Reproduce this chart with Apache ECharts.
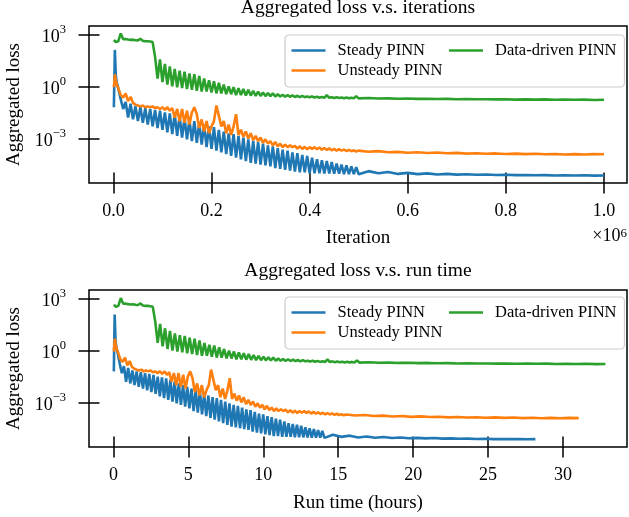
<!DOCTYPE html>
<html><head><meta charset="utf-8">
<script src="https://cdn.jsdelivr.net/npm/echarts@6/dist/echarts.min.js"></script>
<style>html,body{margin:0;padding:0;background:#fff}#c{width:629px;height:517px}</style>
</head><body><div id="c"></div>
<script>
// iteration grid (thousands of iterations)
const iterK = [1,3,5,7,
 10,15,20,25,30,35,40,45,50,55,60,65,70,75,80,85,90,95,100,
 105,110,115,120,125,130,135,140,145,150,155,160,165,170,175,180,185,190,195,200,
 205,210,215,220,225,230,235,240,245,250,255,260,265,270,275,280,285,290,295,300,
 305,310,315,320,325,330,335,340,345,350,355,360,365,370,375,380,385,390,395,400,
 405,410,415,420,425,430,435,440,445,450,455,460,465,470,475,480,485,490,495,500,
 520,540,560,580,600,620,640,660,680,700,720,740,760,780,800,820,840,860,880,900,920,940,960,980,1000];
// log10 of aggregated loss
const steadyLog = [-1.2,2.1,0.6,0.2,
 -0.1,-0.75,-1.3,-0.9,-1.8,-1.0,-1.9,-1.15,-2.0,-1.2,-2.1,-1.25,-2.2,-1.3,-2.3,-1.35,-2.4,-1.4,-2.5,
 -1.5,-2.65,-1.55,-2.75,-1.6,-2.85,-1.7,-2.95,-1.8,-3.05,-1.9,-3.15,-2.0,-3.25,-2.1,-3.35,-2.2,-3.5,-2.3,-3.6,
 -2.35,-3.7,-2.5,-3.8,-2.6,-3.9,-2.7,-4.0,-2.75,-4.1,-2.85,-4.2,-2.95,-4.3,-3.05,-4.4,-3.15,-4.45,-3.2,-4.5,
 -3.3,-4.55,-3.4,-4.6,-3.45,-4.7,-3.55,-4.75,-3.65,-4.8,-3.7,-4.85,-3.8,-4.9,-3.85,-4.95,-3.95,-4.95,-4.0,-5.0,
 -4.1,-5.0,-4.2,-5.0,-4.25,-5.02,-4.3,-5.02,-4.35,-5.03,-4.45,-5.03,-4.5,-5.05,-4.55,-5.05,-4.6,-5.05,-4.65,-5.06,
 -4.88,-5.0,-4.93,-5.04,-4.98,-5.05,-5.01,-5.07,-5.04,-5.08,-5.06,-5.09,-5.07,-5.1,-5.09,-5.11,-5.1,-5.12,-5.11,-5.13,-5.12,-5.13,-5.12,-5.14,-5.13];
const unsteadyLog = [-0.05,0.7,0.35,0.1,
 -0.1,-0.5,-0.65,-0.4,-0.85,-0.6,-0.95,-1.05,-1.1,-1.15,-1.1,-1.2,-1.15,-1.2,-1.15,-1.25,-1.2,-1.3,-1.2,
 -1.35,-1.2,-1.4,-1.25,-1.8,-1.3,-2.0,-1.3,-2.1,-1.4,-2.2,-1.5,-1.2,-1.6,-2.4,-1.9,-2.6,-2.0,-2.7,-2.3,
 -2.0,-1.1,-1.7,-2.3,-2.0,-2.7,-2.2,-2.8,-2.3,-1.6,-2.8,-2.5,-2.9,-2.6,-3.0,-2.7,-3.1,-2.85,-3.15,-2.95,
 -3.25,-3.05,-3.3,-3.15,-3.4,-3.2,-3.45,-3.3,-3.5,-3.35,-3.5,-3.4,-3.5,-3.42,-3.58,-3.45,-3.6,-3.48,-3.62,-3.5,
 -3.6,-3.5,-3.62,-3.52,-3.65,-3.55,-3.66,-3.57,-3.68,-3.6,-3.7,-3.62,-3.7,-3.64,-3.72,-3.66,-3.73,-3.68,-3.75,-3.7,
 -3.76,-3.73,-3.79,-3.77,-3.82,-3.79,-3.84,-3.81,-3.85,-3.83,-3.87,-3.85,-3.88,-3.86,-3.89,-3.87,-3.9,-3.88,-3.91,-3.89,-3.92,-3.9,-3.92,-3.9,-3.91];
const drivenLog = [2.67,2.6,2.55,2.58,
 2.6,3.05,2.72,2.73,2.7,2.68,2.69,2.66,2.65,2.74,2.62,2.6,2.6,2.58,2.55,1.7,0.45,1.55,0.25,
 1.3,0.1,1.15,0.0,1.0,-0.05,0.9,-0.1,0.85,-0.15,0.75,-0.2,0.7,-0.25,0.6,-0.3,0.45,-0.3,0.35,-0.35,
 0.3,-0.4,0.2,-0.4,0.1,-0.45,0.0,-0.45,-0.05,-0.5,-0.1,-0.5,-0.15,-0.52,-0.2,-0.53,-0.25,-0.55,-0.3,-0.55,
 -0.35,-0.56,-0.38,-0.57,-0.4,-0.58,-0.45,-0.58,-0.48,-0.6,-0.5,-0.6,-0.52,-0.61,-0.54,-0.62,-0.55,-0.62,-0.58,-0.63,
 -0.58,-0.64,-0.6,-0.65,-0.61,-0.66,-0.5,-0.66,-0.62,-0.67,-0.63,-0.67,-0.64,-0.68,-0.64,-0.68,-0.65,-0.69,-0.56,-0.69,
 -0.67,-0.7,-0.69,-0.71,-0.7,-0.72,-0.71,-0.73,-0.72,-0.74,-0.73,-0.74,-0.74,-0.75,-0.74,-0.76,-0.75,-0.76,-0.75,-0.77,-0.76,-0.77,-0.76,-0.78,-0.77];
// total wall-clock hours for the 1e6 iterations of each run
const runHoursTotal = [28.16, 31.05, 32.83];
const seriesNames = ['Steady PINN', 'Unsteady PINN', 'Data-driven PINN'];
const seriesColors = ['#1f77b4', '#ff7f0e', '#2ca02c'];
const iterTicks = [0, 200000, 400000, 600000, 800000, 1000000];
const hourTicks = [0, 5, 10, 15, 20, 25, 30];
const lossTicks = [1e-3, 1, 1e3];

const FONT = '"Liberation Serif", "Times New Roman", serif';
const logs = [steadyLog, unsteadyLog, drivenLog];

function lossLabel(v) {
  const e = Math.round(Math.log10(v));
  return '{b|10}{s|' + (e < 0 ? '\u2212' + (-e) : e) + '}';
}
const richSup = {
  b: {fontSize: 18, fontFamily: FONT, color: '#000', padding: [5, 0, 0, 0]},
  s: {fontSize: 12.5, fontFamily: FONT, color: '#000', verticalAlign: 'top'}
};
const tickStyle = {color: '#000', width: 1.5};

function xAxes(grid, min, max, ticks, fmt, name, gap) {
  return [
    {gridIndex: grid, type: 'value', position: 'bottom', min: min, max: max,
     axisLine: {show: false, onZero: false}, splitLine: {show: false},
     axisTick: {show: true, inside: false, length: 10.5, customValues: ticks, lineStyle: tickStyle},
     axisLabel: {customValues: ticks, formatter: fmt, margin: 19.5, fontSize: 18, fontFamily: FONT, color: '#000'},
     name: name, nameLocation: 'middle', nameGap: gap,
     nameTextStyle: {fontSize: 19, fontFamily: FONT, color: '#000'}},
    {gridIndex: grid, type: 'value', position: 'bottom', min: min, max: max,
     axisLine: {show: false, onZero: false}, splitLine: {show: false}, axisLabel: {show: false},
     axisTick: {show: true, inside: true, length: 10.5, customValues: ticks, lineStyle: tickStyle}}
  ];
}
function yAxes(grid, minE, maxE) {
  const min = Math.pow(10, minE), max = Math.pow(10, maxE);
  return [
    {gridIndex: grid, type: 'log', position: 'left', min: min, max: max,
     axisLine: {show: false, onZero: false}, splitLine: {show: false}, minorTick: {show: false},
     axisTick: {show: true, inside: false, length: 10.5, customValues: lossTicks, lineStyle: tickStyle},
     axisLabel: {customValues: lossTicks, formatter: lossLabel, margin: 23, rich: richSup},
     name: 'Aggregated loss', nameLocation: 'middle', nameGap: 64,
     nameTextStyle: {fontSize: 19, fontFamily: FONT, color: '#000'}},
    {gridIndex: grid, type: 'log', position: 'left', min: min, max: max,
     axisLine: {show: false, onZero: false}, splitLine: {show: false}, axisLabel: {show: false}, minorTick: {show: false},
     axisTick: {show: true, inside: true, length: 10.5, customValues: lossTicks, lineStyle: tickStyle}}
  ];
}
function legends(top) {
  const common = {orient: 'horizontal', icon: 'rect', itemWidth: 34, itemHeight: 2.6, itemGap: 24, selectedMode: false,
    textStyle: {fontSize: 16.5, fontFamily: FONT, color: '#000', padding: [0, 0, 0, 7]}};
  return [
    Object.assign({}, common, {data: ['Steady PINN', 'Data-driven PINN'], left: 285, top: top,
      padding: [7, 8, 28, 6.5], backgroundColor: 'rgba(255,255,255,0.8)', borderColor: '#cccccc',
      borderWidth: 1.2, borderRadius: 4, z: 10}),
    Object.assign({}, common, {data: ['Unsteady PINN'], left: 291.5, top: top + 27, padding: 0, z: 11})
  ];
}

const series = [];
for (let k = 0; k < 3; k++) {
  series.push({name: seriesNames[k], type: 'line', xAxisIndex: 0, yAxisIndex: 0, showSymbol: false, symbol: 'none',
    lineStyle: {width: 2.6, color: seriesColors[k]}, itemStyle: {color: seriesColors[k]},
    data: iterK.map((x, i) => [x * 1000, Math.pow(10, logs[k][i])])});
}
for (let k = 0; k < 3; k++) {
  series.push({name: seriesNames[k], type: 'line', xAxisIndex: 2, yAxisIndex: 2, showSymbol: false, symbol: 'none',
    lineStyle: {width: 2.6, color: seriesColors[k]}, itemStyle: {color: seriesColors[k]},
    data: iterK.map((x, i) => [x / 1000 * runHoursTotal[k], Math.pow(10, logs[k][i])])});
}

const chart = echarts.init(document.getElementById('c'), null, {renderer: 'canvas'});
chart.setOption({
  animation: false,
  backgroundColor: '#fff',
  grid: [
    {left: 89, top: 26, width: 538, height: 157, show: true, borderColor: '#000', borderWidth: 1.5, containLabel: false, outerBoundsMode: 'none'},
    {left: 89, top: 290, width: 538, height: 157, show: true, borderColor: '#000', borderWidth: 1.5, containLabel: false, outerBoundsMode: 'none'}
  ],
  xAxis: [].concat(
    xAxes(0, -49700, 1046900, iterTicks, v => (v / 1e6).toFixed(1), 'Iteration', 46),
    xAxes(1, -1.628, 34.27, hourTicks, v => String(v), 'Run time (hours)', 47)
  ),
  yAxis: [].concat(yAxes(0, -5.563, 3.477), yAxes(1, -5.588, 3.521)),
  legend: [].concat(legends(35), legends(297)),
  graphic: [
    {type: 'text', x: 358, y: 7.6, style: {text: 'Aggregated loss v.s. iterations', fontSize: 19.5, fontFamily: FONT, fill: '#000', align: 'center', verticalAlign: 'middle'}},
    {type: 'text', x: 358, y: 270.5, style: {text: 'Aggregated loss v.s. run time', fontSize: 19.5, fontFamily: FONT, fill: '#000', align: 'center', verticalAlign: 'middle'}},
    {type: 'text', x: 627, y: 227, style: {text: '\u00d710{s|6}', fontSize: 18, fontFamily: FONT, fill: '#000', align: 'right', verticalAlign: 'top',
      rich: {s: {fontSize: 13, fontFamily: FONT, fill: '#000', verticalAlign: 'top'}}}}
  ],
  series: series
});
</script>
</body></html>
